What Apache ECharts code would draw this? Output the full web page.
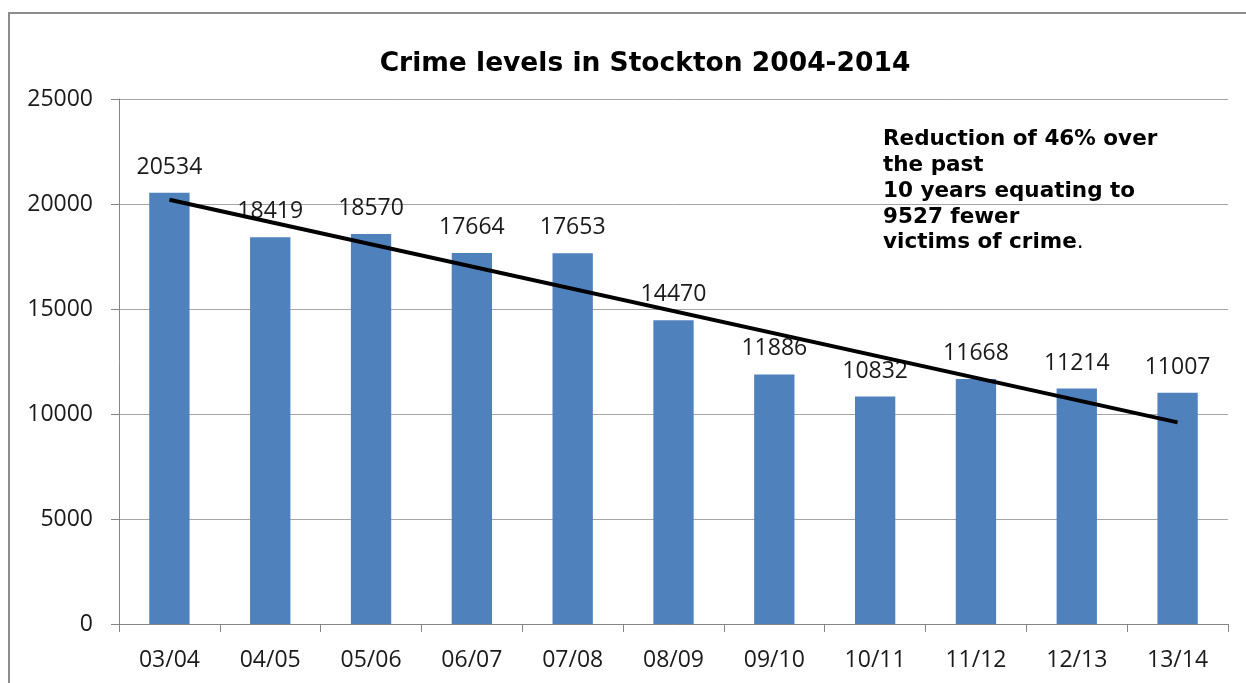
<!DOCTYPE html>
<html>
<head>
<meta charset="utf-8">
<script src="https://cdn.jsdelivr.net/npm/echarts@6/dist/echarts.min.js"></script>
<style>
html,body{margin:0;padding:0;background:#fff;}
#main{width:1246px;height:683px;}
</style>
</head>
<body>
<div id="main"></div>
<script>
var categories = ['03/04','04/05','05/06','06/07','07/08','08/09','09/10','10/11','11/12','12/13','13/14'];
var crimeCounts = [20534,18419,18570,17664,17653,14470,11886,10832,11668,11214,11007];
var trendPoints = [[0, 20200], [10, 9600]];
var yTicks = {min: 0, max: 25000, interval: 5000};
var titleText = 'Crime levels in Stockton 2004-2014';
var noteLines = ['Reduction of 46% over', 'the past', '10 years equating to', '9527 fewer', 'victims of crime'];

var chart = echarts.init(document.getElementById('main'));
var tickFont = {fontFamily: 'Open Sans, Liberation Sans, sans-serif', fontSize: 23, color: '#1a1a1a'};
var noteStyle = {fontFamily: 'DejaVu Sans, Verdana, sans-serif', fontWeight: 'bold', fontSize: 21.5, lineHeight: 25.75, fill: '#000'};
chart.setOption({
  animation: false,
  backgroundColor: '#fff',
  title: {
    text: titleText,
    left: 640, top: 46, textAlign: 'center',
    textStyle: {fontFamily: 'DejaVu Sans, Verdana, sans-serif', fontWeight: 'bold', fontSize: 26.5, color: '#000'}
  },
  grid: {left: 119, right: 18, top: 99, bottom: 59, containLabel: false},
  xAxis: {
    type: 'category',
    data: categories,
    boundaryGap: true,
    axisLine: {lineStyle: {color: '#868686', width: 1}},
    axisTick: {show: true, length: 8, lineStyle: {color: '#868686'}},
    axisLabel: Object.assign({margin: 25}, tickFont)
  },
  yAxis: {
    type: 'value',
    min: yTicks.min, max: yTicks.max, interval: yTicks.interval,
    axisLine: {show: true, lineStyle: {color: '#868686', width: 1}},
    axisTick: {show: true, length: 8, lineStyle: {color: '#868686'}},
    splitLine: {show: true, lineStyle: {color: '#a6a6a6', width: 1}},
    axisLabel: Object.assign({margin: 26, formatter: function (v) { return String(v); }}, tickFont)
  },
  graphic: [
    {type: 'rect', silent: true, z: -1,
     shape: {x: 9, y: 13, width: 1300, height: 720},
     style: {fill: 'none', stroke: '#8c8c8c', lineWidth: 2}},
    {type: 'text', left: 883, top: 127,
     style: Object.assign({
       text: noteLines.join('\n') + '{p|.}',
       rich: {p: {fontFamily: 'DejaVu Sans, Verdana, sans-serif', fontWeight: 'normal', fontSize: 21.5, lineHeight: 25.75, fill: '#000'}}
     }, noteStyle)}
  ],
  series: [
    {
      type: 'bar',
      data: crimeCounts,
      barWidth: '40%',
      itemStyle: {color: '#4F81BD'},
      label: {show: true, position: 'top', distance: 14, fontFamily: 'Open Sans, Liberation Sans, sans-serif', fontSize: 23, color: '#1a1a1a'}
    },
    {
      type: 'line',
      data: trendPoints,
      symbol: 'none',
      lineStyle: {color: '#000', width: 4},
      z: 5
    }
  ]
});
</script>
</body>
</html>
